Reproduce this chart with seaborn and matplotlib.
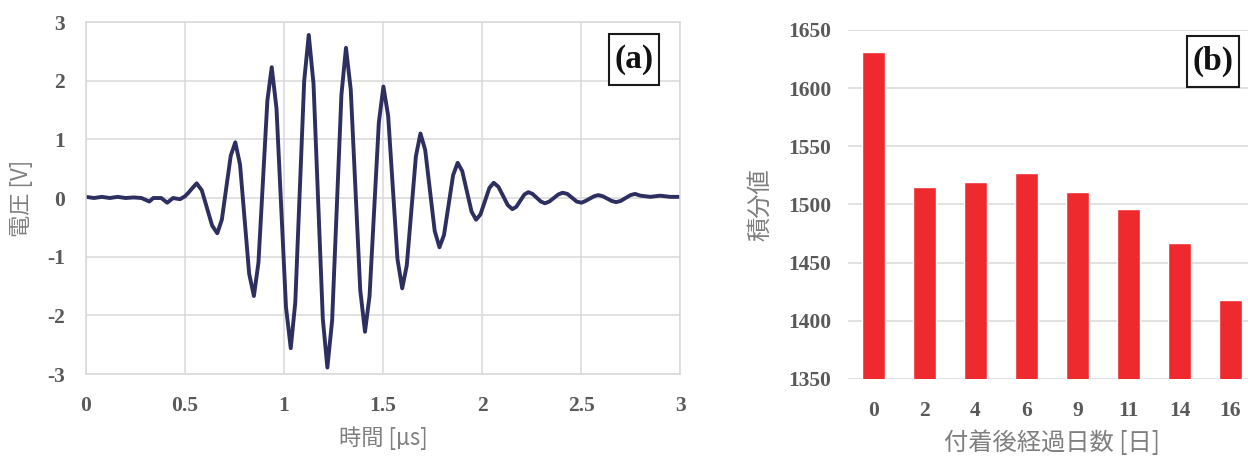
import numpy as np
import matplotlib
matplotlib.use("Agg")
import matplotlib.pyplot as plt
from matplotlib.patches import Rectangle
from matplotlib.font_manager import FontProperties
import seaborn as sns
import pandas as pd

# (a) received waveform: time [us] and voltage [V]
time_us = [
    0.00, 0.04, 0.08, 0.12, 0.16, 0.20, 0.24, 0.28, 0.32, 0.34, 0.38, 0.41, 0.44, 0.475,
    0.50, 0.52, 0.54, 0.559, 0.585, 0.637,
    0.663, 0.686, 0.731,
    0.754, 0.778, 0.824,
    0.848, 0.871, 0.916,
    0.938, 0.962, 1.010,
    1.034, 1.057, 1.102,
    1.125, 1.149, 1.196,
    1.219, 1.243, 1.290,
    1.313, 1.337, 1.385,
    1.409, 1.432, 1.479,
    1.502, 1.526, 1.573,
    1.597, 1.620, 1.666,
    1.689, 1.713, 1.761,
    1.785, 1.808, 1.854,
    1.877, 1.900, 1.947,
    1.970, 1.992, 2.037,
    2.059, 2.083, 2.130,
    2.153, 2.173, 2.214,
    2.234, 2.255, 2.297,
    2.318, 2.340, 2.385,
    2.407, 2.431, 2.478,
    2.502, 2.523, 2.566,
    2.587, 2.610, 2.655,
    2.677, 2.700, 2.750,
    2.773, 2.80, 2.85, 2.90, 2.95, 3.00,
]
voltage = [
    0.02, 0.00, 0.02, 0.00, 0.02, 0.00, 0.01, 0.00, -0.06, 0.00, 0.00, -0.08, 0.00, -0.02,
    0.03, 0.10, 0.18, 0.25, 0.13, -0.47,
    -0.60, -0.37, 0.72,
    0.95, 0.57, -1.29,
    -1.67, -1.10, 1.66,
    2.23, 1.53, -1.86,
    -2.56, -1.78, 2.00,
    2.78, 1.95, -2.06,
    -2.89, -2.09, 1.76,
    2.56, 1.85, -1.57,
    -2.28, -1.67, 1.29,
    1.90, 1.40, -1.04,
    -1.54, -1.15, 0.71,
    1.10, 0.82, -0.56,
    -0.84, -0.63, 0.39,
    0.60, 0.46, -0.23,
    -0.37, -0.28, 0.17,
    0.26, 0.19, -0.12,
    -0.19, -0.15, 0.06,
    0.10, 0.07, -0.06,
    -0.09, -0.06, 0.06,
    0.09, 0.07, -0.06,
    -0.08, -0.05, 0.03,
    0.05, 0.03, -0.05,
    -0.07, -0.05, 0.05,
    0.07, 0.04, 0.02, 0.04, 0.02, 0.02,
]

# (b) integral value per elapsed days
days = ["0", "2", "4", "6", "9", "11", "14", "16"]
integral = [1631, 1515, 1519, 1527, 1511, 1496, 1467, 1418]

sns.set_style("white")
jp = ["Noto Sans CJK JP", "DejaVu Sans"]
grid_c = "#d9d9d9"
label_c = "#7f7f7f"


def style_ticks(ax):
    for lab in ax.get_xticklabels() + ax.get_yticklabels():
        lab.set_fontproperties(FontProperties(family="Liberation Serif", weight="bold", size=15.5))
        lab.set_color("#595959")


def panel_tag(ax, txt, rect, center):
    ax.add_patch(Rectangle(rect[:2], rect[2], rect[3], transform=ax.transAxes,
                           fc="white", ec="#1a1a1a", lw=1.5, clip_on=False, zorder=5))
    ax.text(center[0], center[1], txt, transform=ax.transAxes, ha="center", va="center",
            family="Liberation Serif", weight="bold", size=24, color="#111111", zorder=6)


fig = plt.figure(figsize=(12.48, 4.57), dpi=100)
ax1 = fig.add_axes([0.0689, 0.1816, 0.4760, 0.7702])
ax2 = fig.add_axes([0.6795, 0.1707, 0.3269, 0.7637])

# ---- (a) waveform
wave = pd.DataFrame({"t": time_us, "v": voltage})
sns.lineplot(data=wave, x="t", y="v", ax=ax1, color="#2c2f60", lw=2.8)
ax1.set_xlim(0, 3)
ax1.set_ylim(-3, 3)
ax1.set_xticks([0, 0.5, 1, 1.5, 2, 2.5, 3], ["0", "0.5", "1", "1.5", "2", "2.5", "3"])
ax1.set_yticks([-3, -2, -1, 0, 1, 2, 3], ["-3", "-2", "-1", "0", "1", "2", "3"])
ax1.grid(True, color=grid_c, lw=1.1)
for s in ax1.spines.values():
    s.set_color(grid_c)
    s.set_linewidth(1.1)
ax1.tick_params(length=0)
ax1.tick_params(axis="x", pad=16)
ax1.tick_params(axis="y", pad=15)
style_ticks(ax1)
ax1.set_xlabel("時間 [µs]", family=jp, fontsize=16, color=label_c)
ax1.set_ylabel("電圧 [V]", family=jp, fontsize=16, color=label_c)
ax1.xaxis.set_label_coords(0.5, -0.182)
ax1.xaxis.label.set_verticalalignment("center")
ax1.yaxis.set_label_coords(-0.109, 0.5)
ax1.yaxis.label.set_verticalalignment("center")
panel_tag(ax1, "(a)", (0.880, 0.821, 0.0852, 0.1449), (0.9226, 0.8935))

# ---- (b) bars
bars = pd.DataFrame({"day": days, "val": integral})
sns.barplot(data=bars, x="day", y="val", ax=ax2, color="#ee2a2f", width=0.44,
            saturation=1, order=days)
ax2.set_ylim(1350, 1650)
ax2.set_xlim(-0.5, len(days) - 0.5)
ax2.set_yticks([1350, 1400, 1450, 1500, 1550, 1600, 1650])
ax2.yaxis.grid(True, color=grid_c, lw=1.1)
ax2.set_axisbelow(True)
for s in ax2.spines.values():
    s.set_visible(False)
ax2.tick_params(length=0)
ax2.tick_params(axis="x", pad=16)
ax2.tick_params(axis="y", pad=12)
style_ticks(ax2)
ax2.set_xlabel("付着後経過日数 [日]", family=jp, fontsize=17.5, color=label_c)
ax2.set_ylabel("積分値", family=jp, fontsize=17.5, color=label_c)
ax2.xaxis.set_label_coords(0.5, -0.183)
ax2.xaxis.label.set_verticalalignment("center")
ax2.yaxis.set_label_coords(-0.2157, 0.5)
ax2.yaxis.label.set_verticalalignment("center")
panel_tag(ax2, "(b)", (0.8316, 0.8358, 0.126, 0.1479), (0.8946, 0.9097))

fig.savefig("out.png", dpi=100)
